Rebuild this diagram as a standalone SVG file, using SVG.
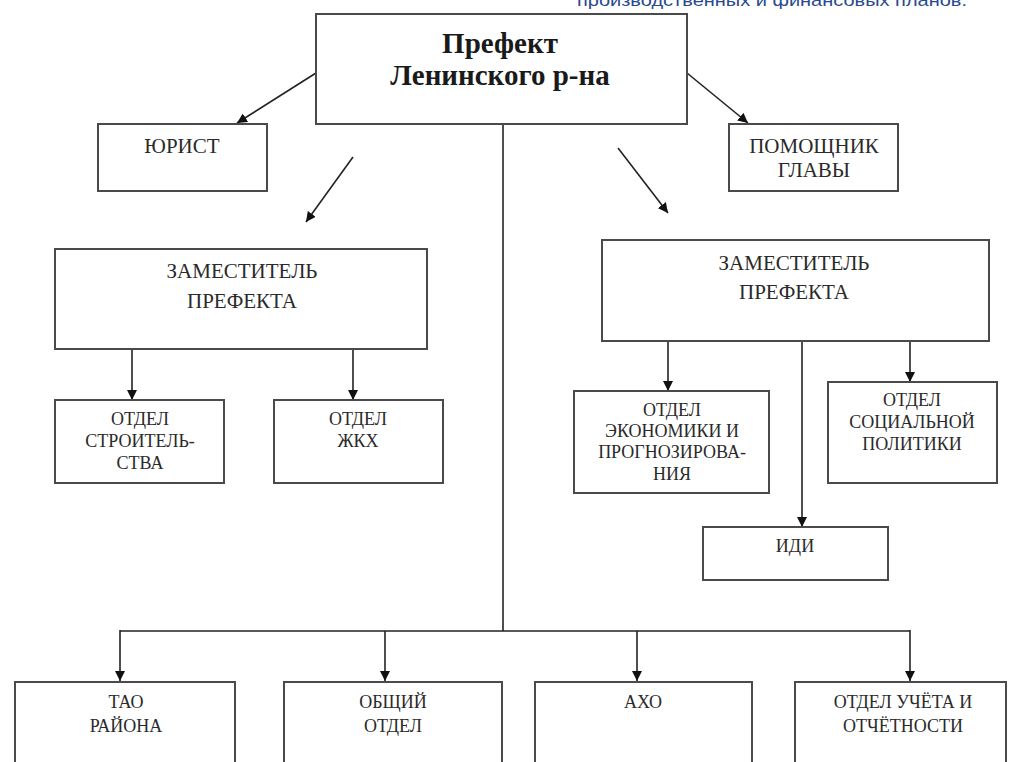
<svg xmlns="http://www.w3.org/2000/svg" width="1011" height="762" viewBox="0 0 1011 762">
<defs>
<style>
.box{fill:#fff;stroke:#4a4a4a;stroke-width:2}
.t{font-family:"Liberation Serif","Times New Roman",serif;font-size:18px;fill:#2a2a2a;text-anchor:middle}
.tm{font-family:"Liberation Serif","Times New Roman",serif;font-size:21px;fill:#2a2a2a;text-anchor:middle}
.tb{font-family:"Liberation Serif","Times New Roman",serif;font-size:29px;font-weight:bold;fill:#1a1a1a;text-anchor:middle}
.c{stroke:#222;stroke-width:1.6;fill:none}
</style>
<marker id="ah" viewBox="0 0 10 10" refX="10" refY="5" markerWidth="10" markerHeight="10" markerUnits="userSpaceOnUse" orient="auto">
<path d="M0,0 L10,5 L0,10 z" fill="#111"/>
</marker>
</defs>
<rect width="1011" height="762" fill="#fff"/>
<text x="577" y="6" font-family="'Liberation Sans',Arial,sans-serif" font-size="17" fill="#2b4a8c" textLength="390" lengthAdjust="spacingAndGlyphs">производственных и финансовых планов.</text>

<g id="connectors">
<line class="c" x1="316" y1="73" x2="237" y2="123" marker-end="url(#ah)"/>
<line class="c" x1="687" y1="73" x2="748" y2="123" marker-end="url(#ah)"/>
<line class="c" x1="353" y1="157" x2="306" y2="222" marker-end="url(#ah)"/>
<line class="c" x1="618" y1="148" x2="668" y2="213" marker-end="url(#ah)"/>
<line class="c" x1="503" y1="124" x2="503" y2="631"/>
<line class="c" x1="120" y1="631" x2="910" y2="631"/>
<line class="c" x1="120" y1="630" x2="120" y2="681" marker-end="url(#ah)"/>
<line class="c" x1="385" y1="631" x2="385" y2="681" marker-end="url(#ah)"/>
<line class="c" x1="637" y1="631" x2="637" y2="681" marker-end="url(#ah)"/>
<line class="c" x1="910" y1="630" x2="910" y2="681" marker-end="url(#ah)"/>
<line class="c" x1="132" y1="349" x2="132" y2="400" marker-end="url(#ah)"/>
<line class="c" x1="353" y1="349" x2="353" y2="400" marker-end="url(#ah)"/>
<line class="c" x1="668" y1="341" x2="668" y2="391" marker-end="url(#ah)"/>
<line class="c" x1="802" y1="341" x2="802" y2="527" marker-end="url(#ah)"/>
<line class="c" x1="910" y1="341" x2="910" y2="382" marker-end="url(#ah)"/>
</g>

<g id="prefect">
<rect class="box" x="316" y="14" width="371" height="110"/>
<text class="tb" x="500" y="53">Префект</text>
<text class="tb" x="500" y="85">Ленинского р-на</text>
</g>
<g id="jurist">
<rect class="box" x="98" y="124" width="169" height="67"/>
<text class="tm" x="182" y="153">ЮРИСТ</text>
</g>
<g id="assistant">
<rect class="box" x="729" y="124" width="169" height="67"/>
<text class="tm" x="814" y="153">ПОМОЩНИК</text>
<text class="tm" x="814" y="177">ГЛАВЫ</text>
</g>
<g id="deputy-left">
<rect class="box" x="55" y="249" width="372" height="100"/>
<text class="tm" x="242" y="278">ЗАМЕСТИТЕЛЬ</text>
<text class="tm" x="242" y="308">ПРЕФЕКТА</text>
</g>
<g id="deputy-right">
<rect class="box" x="602" y="240" width="387" height="101"/>
<text class="tm" x="794" y="270">ЗАМЕСТИТЕЛЬ</text>
<text class="tm" x="794" y="299">ПРЕФЕКТА</text>
</g>
<g id="dept-construction">
<rect class="box" x="55" y="400" width="169" height="83"/>
<text class="t" x="140" y="425">ОТДЕЛ</text>
<text class="t" x="140" y="447">СТРОИТЕЛЬ-</text>
<text class="t" x="140" y="469">СТВА</text>
</g>
<g id="dept-housing">
<rect class="box" x="274" y="400" width="169" height="83"/>
<text class="t" x="358" y="425">ОТДЕЛ</text>
<text class="t" x="358" y="447">ЖКХ</text>
</g>
<g id="dept-economy">
<rect class="box" x="574" y="391" width="195" height="102"/>
<text class="t" x="672" y="416">ОТДЕЛ</text>
<text class="t" x="672" y="437">ЭКОНОМИКИ И</text>
<text class="t" x="672" y="458">ПРОГНОЗИРОВА-</text>
<text class="t" x="672" y="480">НИЯ</text>
</g>
<g id="dept-social">
<rect class="box" x="828" y="382" width="169" height="101"/>
<text class="t" x="912" y="406">ОТДЕЛ</text>
<text class="t" x="912" y="428">СОЦИАЛЬНОЙ</text>
<text class="t" x="912" y="450">ПОЛИТИКИ</text>
</g>
<g id="idi">
<rect class="box" x="703" y="527" width="185" height="53"/>
<text class="t" x="795" y="552">ИДИ</text>
</g>
<g id="tao">
<rect class="box" x="15" y="682" width="220" height="100"/>
<text class="t" x="126" y="708">ТАО</text>
<text class="t" x="126" y="732">РАЙОНА</text>
</g>
<g id="general">
<rect class="box" x="284" y="682" width="218" height="100"/>
<text class="t" x="393" y="708">ОБЩИЙ</text>
<text class="t" x="393" y="732">ОТДЕЛ</text>
</g>
<g id="aho">
<rect class="box" x="535" y="682" width="217" height="100"/>
<text class="t" x="643" y="708">АХО</text>
</g>
<g id="accounting">
<rect class="box" x="795" y="682" width="211" height="100"/>
<text class="t" x="903" y="708">ОТДЕЛ УЧЁТА И</text>
<text class="t" x="903" y="732">ОТЧЁТНОСТИ</text>
</g>
</svg>
